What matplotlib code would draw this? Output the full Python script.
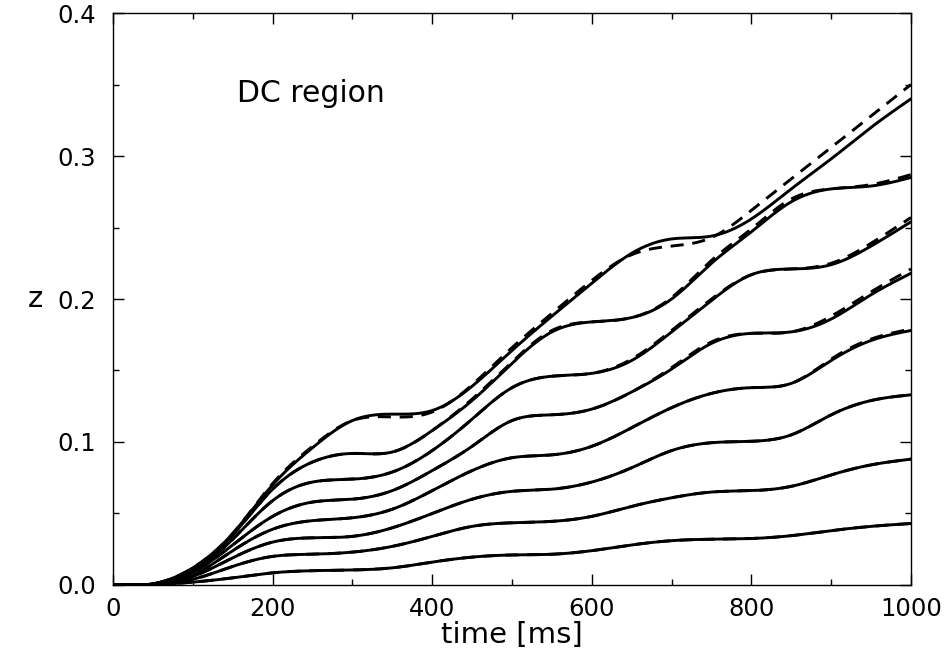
import numpy as np
import matplotlib
matplotlib.use("Agg")
import matplotlib.pyplot as plt
from matplotlib.ticker import MultipleLocator, FormatStrFormatter

plt.rcParams['font.family'] = ['DejaVu Sans']

# time grid (ms)
t = [0, 50, 100, 150, 200, 250, 300, 350, 400, 450, 500,
     550, 600, 650, 700, 750, 800, 850, 900, 950, 1000]

# solid curves (z values), bottom to top
z1 = [0, 0.0003, 0.002, 0.005, 0.0085, 0.010, 0.0105, 0.012, 0.016, 0.0195, 0.021,
      0.0215, 0.024, 0.028, 0.031, 0.032, 0.0325, 0.0345, 0.038, 0.041, 0.043]
z2 = [0, 0.0004, 0.004, 0.013, 0.020, 0.0215, 0.023, 0.027, 0.034, 0.041, 0.0435,
      0.0445, 0.048, 0.055, 0.061, 0.065, 0.066, 0.069, 0.077, 0.084, 0.088]
z3 = [0, 0.0005, 0.006, 0.019, 0.030, 0.033, 0.034, 0.040, 0.050, 0.060, 0.0655,
      0.067, 0.072, 0.082, 0.094, 0.0995, 0.1005, 0.105, 0.119, 0.129, 0.133]
z4 = [0, 0.0005, 0.007, 0.024, 0.039, 0.045, 0.047, 0.053, 0.066, 0.080, 0.089,
      0.091, 0.097, 0.110, 0.124, 0.134, 0.138, 0.141, 0.157, 0.171, 0.178]
z5 = [0, 0.0006, 0.009, 0.028, 0.048, 0.058, 0.060, 0.066, 0.080, 0.097, 0.115,
      0.119, 0.123, 0.135, 0.151, 0.169, 0.176, 0.177, 0.186, 0.203, 0.218]
z6 = [0, 0.0007, 0.010, 0.032, 0.059, 0.072, 0.074, 0.079, 0.094, 0.116, 0.138,
      0.146, 0.148, 0.157, 0.177, 0.199, 0.217, 0.221, 0.224, 0.237, 0.254]
z7 = [0, 0.0008, 0.011, 0.035, 0.067, 0.086, 0.092, 0.093, 0.108, 0.129, 0.155,
      0.177, 0.184, 0.187, 0.200, 0.225, 0.247, 0.268, 0.277, 0.279, 0.285]
z8 = [0, 0.0008, 0.012, 0.036, 0.070, 0.096, 0.115, 0.1195, 0.122, 0.139, 0.164,
      0.188, 0.211, 0.232, 0.242, 0.244, 0.256, 0.277, 0.298, 0.320, 0.340]

# dashed curves
d1 = z1
d2 = z2
d3 = z3
d4 = [0, 0.0005, 0.007, 0.024, 0.039, 0.045, 0.047, 0.053, 0.066, 0.080, 0.089,
      0.091, 0.097, 0.110, 0.124, 0.134, 0.138, 0.141, 0.158, 0.172, 0.179]
d5 = [0, 0.0006, 0.009, 0.028, 0.048, 0.058, 0.060, 0.066, 0.080, 0.097, 0.115,
      0.119, 0.123, 0.135, 0.152, 0.170, 0.176, 0.177, 0.188, 0.205, 0.221]
d6 = [0, 0.0007, 0.010, 0.032, 0.059, 0.072, 0.074, 0.079, 0.094, 0.116, 0.138,
      0.146, 0.148, 0.158, 0.178, 0.200, 0.217, 0.221, 0.225, 0.239, 0.257]
d7 = [0, 0.0008, 0.011, 0.035, 0.067, 0.086, 0.092, 0.093, 0.108, 0.130, 0.156,
      0.178, 0.184, 0.187, 0.201, 0.227, 0.249, 0.270, 0.277, 0.280, 0.287]
d8 = [0, 0.0008, 0.012, 0.036, 0.071, 0.097, 0.115, 0.1175, 0.121, 0.140, 0.166,
      0.190, 0.213, 0.231, 0.237, 0.243, 0.262, 0.284, 0.306, 0.328, 0.350]

solid = [z1, z2, z3, z4, z5, z6, z7, z8]
dashed = [d1, d2, d3, d4, d5, d6, d7, d8]


def spline(x, y, xn):
    """Natural cubic spline through the sampled points (for smooth drawing)."""
    x = np.asarray(x, float)
    y = np.asarray(y, float)
    n = len(x)
    h = np.diff(x)
    A = np.zeros((n, n))
    r = np.zeros(n)
    A[0, 0] = A[-1, -1] = 1.0
    for i in range(1, n - 1):
        A[i, i - 1] = h[i - 1]
        A[i, i] = 2 * (h[i - 1] + h[i])
        A[i, i + 1] = h[i]
        r[i] = 3 * ((y[i + 1] - y[i]) / h[i] - (y[i] - y[i - 1]) / h[i - 1])
    c = np.linalg.solve(A, r)
    b = (y[1:] - y[:-1]) / h - h * (2 * c[:-1] + c[1:]) / 3
    dd = (c[1:] - c[:-1]) / (3 * h)
    idx = np.clip(np.searchsorted(x, xn) - 1, 0, n - 2)
    s = xn - x[idx]
    out = y[idx] + b[idx] * s + c[idx] * s**2 + dd[idx] * s**3
    return np.maximum(out, 0.0)


fig = plt.figure(figsize=(9.46, 6.57), dpi=100)
ax = fig.add_axes([0.1195, 0.1096, 0.8435, 0.8706])

tt = np.linspace(0, 1000, 1001)
for zs in solid:
    ax.plot(tt, spline(t, zs, tt), color='black', lw=2.1, solid_capstyle='round')
for zd in dashed:
    ax.plot(tt, spline(t, zd, tt), color='black', lw=2.1, dashes=(4.5, 3.0))

ax.set_xlim(0, 1000)
ax.set_ylim(0, 0.4)
ax.xaxis.set_major_locator(MultipleLocator(200))
ax.xaxis.set_minor_locator(MultipleLocator(100))
ax.yaxis.set_major_locator(MultipleLocator(0.1))
ax.yaxis.set_minor_locator(MultipleLocator(0.05))
ax.yaxis.set_major_formatter(FormatStrFormatter('%.1f'))
ax.tick_params(which='both', direction='in', top=True, right=True, labelsize=17.5, width=1.0)
ax.tick_params(which='major', length=8)
ax.tick_params(which='minor', length=4)
ax.tick_params(axis='x', which='major', pad=9)
ax.tick_params(axis='y', which='major', pad=12)
for s in ax.spines.values():
    s.set_linewidth(1.0)

ax.set_xlabel('time [ms]', fontsize=21, labelpad=0)
ax.set_ylabel('z', fontsize=21, rotation=0, labelpad=16, va='center')
ax.text(155, 0.344, 'DC region', fontsize=21.5, va='center', ha='left')

fig.savefig('out.png', dpi=100)
